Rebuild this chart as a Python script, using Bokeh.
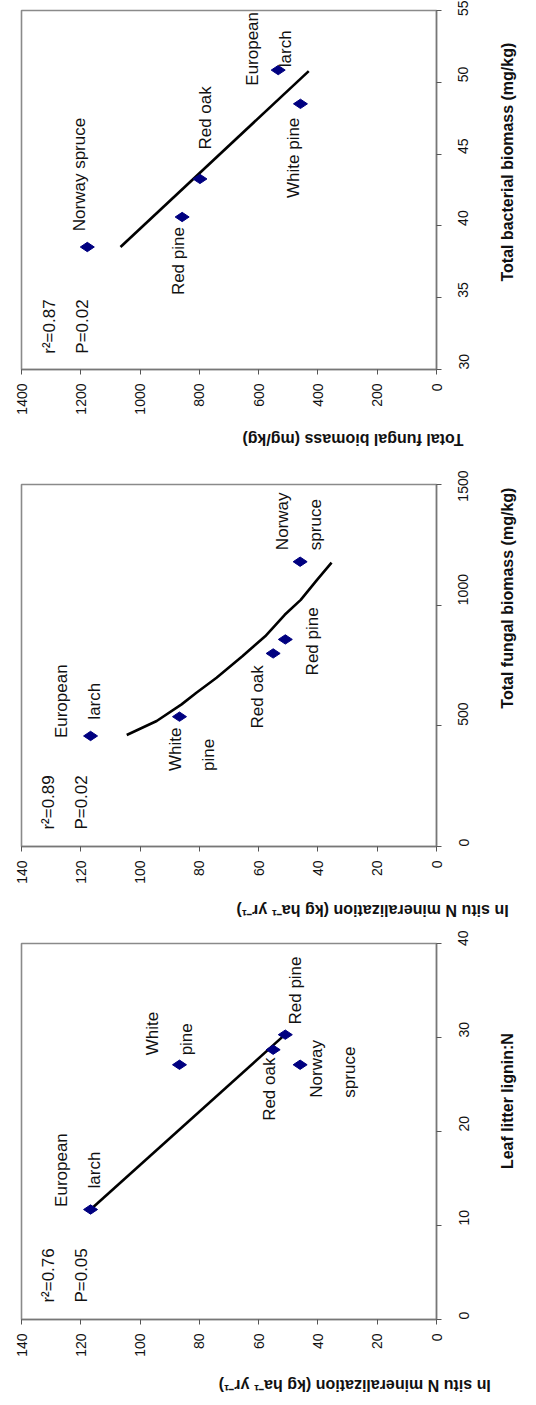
import math
from bokeh.plotting import figure
from bokeh.models import Range1d, FixedTicker, LinearAxis
from bokeh.layouts import column
from bokeh.embed import file_html
from bokeh.resources import INLINE
from bokeh.core.properties import value

# ---------------- data ----------------
species = ["European larch", "White pine", "Red oak", "Red pine", "Norway spruce"]
n_mineralization = [116.7, 86.7, 55.1, 51.0, 46.0]      # kg ha-1 yr-1
lignin_n = [11.7, 27.1, 28.7, 30.3, 27.1]               # leaf litter lignin:N
fungal_p2 = [458, 538, 800, 858, 1180]                  # mg/kg (panel 2)
fungal_p3 = [534, 459, 798, 858, 1178]                  # mg/kg (panel 3)
bacterial = [50.85, 48.5, 43.27, 40.62, 38.53]          # mg/kg (panel 3)

fit1_lignin = [11.7, 30.2]
fit1_n = [116.7, 51.5]
curve2_fungal = [462, 520, 589, 637, 699, 788, 871, 960, 1022, 1105, 1176]
curve2_n = [104.5, 94.4, 86.0, 81.0, 74.2, 65.5, 57.8, 51.2, 45.8, 40.3, 35.4]
fit3_bacterial = [38.53, 50.78]
fit3_fungal = [1066, 431]

stats1 = "r\u00b2=0.76\nP=0.05"
stats2 = "r\u00b2=0.89\nP=0.02"
stats3 = "r\u00b2=0.87\nP=0.02"

n_ticks = [0, 20, 40, 60, 80, 100, 120, 140]
lignin_ticks = [0, 10, 20, 30, 40]
fungal_v_ticks = [0, 500, 1000, 1500]
fungal_h_ticks = [0, 200, 400, 600, 800, 1000, 1200, 1400]
bact_ticks = [30, 35, 40, 45, 50, 55]

title_n = "In situ  N mineralization (kg ha\u207b\u00b9 yr\u207b\u00b9)"
title_lignin = "Leaf litter lignin:N"
title_fungal = "Total fungal biomass (mg/kg)"
title_bact = "Total bacterial biomass (mg/kg)"

# label placements (annotation positions, in data units of each panel)
labels1_center = [("European\nlarch", 121.0, 15.9), ("Red pine", 47.6, 35.0), ("Red oak", 56.2, 24.5)]
labels1_left = [("White\npine", 90.1, 28.1), ("Norway\nspruce", 35.0, 23.6), (stats1, 125.3, 1.8)]
labels2_center = [("European\nlarch", 120.9, 602), ("Red oak", 60.4, 620), ("Red pine", 41.9, 850)]
labels2_left = [("White\npine", 82.4, 313), ("Norway\nspruce", 46.4, 1228), (stats2, 125.2, 70)]
labels3_center = [("Norway spruce", 1206, 43.58), ("Red pine", 869, 37.55), ("Red oak", 779, 47.52),
                  ("European\nlarch", 564, 52.33), ("White pine", 481, 44.74)]
labels3_left = [(stats3, 1251, 31.1)]

FONT = "Liberation Sans"


def title_axis(p, side, at, text, angle, standoff):
    """An extra, line-less axis that carries the (rotated) axis title as its only label."""
    ax = LinearAxis(ticker=FixedTicker(ticks=[at]), major_label_overrides={at: text},
                    axis_line_color=None, major_tick_line_color=None, minor_tick_line_color=None,
                    major_tick_in=0, major_tick_out=0, major_label_standoff=standoff,
                    major_label_orientation=angle, major_label_text_font=FONT,
                    major_label_text_font_size="16px", major_label_text_font_style="bold",
                    major_label_text_color="#111111")
    p.add_layout(ax, side)


def panel(h_vals, v_vals, h_range, v_range, h_ticks, v_ticks, h_title, h_title_at, v_title, v_title_at,
          line_h, line_v, lab_c, lab_l, height, b_top, b_bottom, b_right, h_title_standoff):
    p = figure(width=536, height=height, output_backend="svg", toolbar_location=None,
               x_range=Range1d(*h_range), y_range=Range1d(*v_range),
               x_axis_location="below", y_axis_location="right",
               min_border_left=21, min_border_right=b_right,
               min_border_top=b_top, min_border_bottom=b_bottom)
    p.grid.visible = False
    p.outline_line_color = "#8a8a8a"
    p.outline_line_width = 1.6
    p.background_fill_color = "white"
    p.border_fill_color = "white"

    for ax in (p.xaxis[0], p.yaxis[0]):
        ax.axis_line_color = "#777777"
        ax.axis_line_width = 1.4
        ax.major_tick_line_color = "#555555"
        ax.major_tick_in = 0
        ax.major_tick_out = 5
        ax.minor_tick_line_color = None
        ax.major_label_orientation = math.pi / 2
        ax.major_label_text_font = FONT
        ax.major_label_text_font_size = "14px"
        ax.major_label_text_color = "#111111"

    xa, ya = p.xaxis[0], p.yaxis[0]
    xa.ticker = FixedTicker(ticks=h_ticks)
    ya.ticker = FixedTicker(ticks=v_ticks)
    xa.major_label_standoff = 9
    ya.major_label_standoff = 22

    title_axis(p, "below", h_title_at, h_title, math.pi, h_title_standoff)
    title_axis(p, "right", v_title_at, v_title, math.pi / 2, 31)

    p.line(line_h, line_v, line_color="black", line_width=2.6)
    p.scatter(h_vals, v_vals, marker="diamond", size=14, angle=math.pi / 2,
              fill_color="#000080", line_color="#000080")

    if lab_c:
        p.text(x=[l[1] for l in lab_c], y=[l[2] for l in lab_c], text=[l[0] for l in lab_c],
               angle=math.pi / 2, text_align="center", text_baseline="middle",
               text_font=value(FONT), text_font_size="17px", text_line_height=1.75,
               text_color="#111111")
    if lab_l:
        p.text(x=[l[1] for l in lab_l], y=[l[2] for l in lab_l], text=[l[0] for l in lab_l],
               angle=math.pi / 2, text_align="left", text_baseline="middle",
               text_font=value(FONT), text_font_size="17px", text_line_height=1.75,
               text_color="#111111")
    return p


p3 = panel(fungal_p3, bacterial, (1400, 0), (30, 55), fungal_h_ticks, bact_ticks,
           title_fungal, 655, title_bact, 42, fit3_fungal, fit3_bacterial, labels3_center, labels3_left,
           height=470, b_top=10, b_bottom=101, b_right=100, h_title_standoff=22)
p2 = panel(n_mineralization, fungal_p2, (140, 0), (0, 1500), n_ticks, fungal_v_ticks,
           title_n, 69, title_fungal, 713, curve2_n, curve2_fungal, labels2_center, labels2_left,
           height=460, b_top=14, b_bottom=82, b_right=98, h_title_standoff=24)
p1 = panel(n_mineralization, lignin_n, (140, 0), (0, 40), n_ticks, lignin_ticks,
           title_n, 75, title_lignin, 16, fit1_n, fit1_lignin, labels1_center, labels1_left,
           height=475, b_top=13, b_bottom=86, b_right=96, h_title_standoff=26)

layout = column(p3, p2, p1, spacing=0)
open("out.html", "w").write(file_html(layout, INLINE))
